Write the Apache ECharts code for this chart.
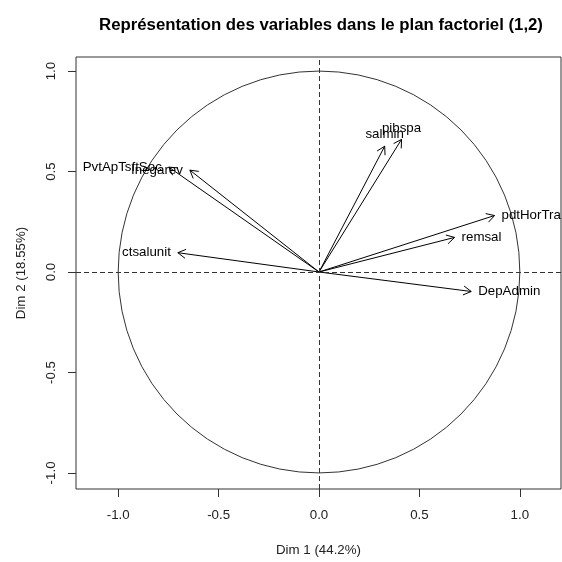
<!DOCTYPE html>
<html>
<head>
<meta charset="utf-8">
<script src="https://cdn.jsdelivr.net/npm/echarts@6/dist/echarts.min.js"></script>
<style>html,body{margin:0;padding:0;background:#fff}#c{width:562px;height:562px}</style>
</head>
<body>
<div id="c"></div>
<script>
// Variable names and coordinates on Dim 1 / Dim 2
const variables = ['PvtApTsftSoc', 'Inegarev', 'salmin', 'pibspa', 'ctsalunit', 'pdtHorTra', 'remsal', 'DepAdmin'];
const dim1 = [-0.748, -0.643, 0.327, 0.411, -0.703, 0.874, 0.675, 0.758];
const dim2 = [0.522, 0.507, 0.626, 0.660, 0.096, 0.281, 0.172, -0.097];
const tickValues = [-1.0, -0.5, 0.0, 0.5, 1.0];
const titleText = 'Représentation des variables dans le plan factoriel (1,2)';
const xName = 'Dim 1 (44.2%)';
const yName = 'Dim 2 (18.55%)';

const FONT = 'Liberation Sans, Arial, sans-serif';
const chart = echarts.init(document.getElementById('c'), null, {renderer: 'canvas'});

const arrowData = variables.map((n, i) => [dim1[i], dim2[i], n]);

function labelPos(x, y) {
  if (Math.abs(y) > Math.abs(x)) return y >= 0 ? 'top' : 'bottom';
  return x >= 0 ? 'right' : 'left';
}

const option = {
  animation: false,
  backgroundColor: '#fff',
  title: {
    text: titleText, left: 316, top: 12, textAlign: 'center',
    textStyle: {fontFamily: FONT, fontSize: 16.8, fontWeight: 'bold', color: '#000'}
  },
  grid: {left: 76, right: 1, top: 57, bottom: 67, show: true, borderColor: '#333', borderWidth: 1, containLabel: false},
  xAxis: {
    type: 'value', min: -1.21, max: 1.205,
    name: xName, nameLocation: 'middle', nameGap: 55,
    nameTextStyle: {fontFamily: FONT, fontSize: 13.3, color: '#222'},
    axisLine: {show: false, onZero: false},
    axisTick: {show: true, length: 8, inside: false, customValues: tickValues, lineStyle: {color: '#333'}},
    axisLabel: {show: true, margin: 20, customValues: tickValues, formatter: v => v.toFixed(1),
      fontFamily: FONT, fontSize: 13.3, color: '#222'},
    splitLine: {show: false}
  },
  yAxis: {
    type: 'value', min: -1.08, max: 1.07,
    name: yName, nameLocation: 'middle', nameGap: 48, nameRotate: 90,
    nameTextStyle: {fontFamily: FONT, fontSize: 13.3, color: '#222'},
    axisLine: {show: false, onZero: false},
    axisTick: {show: true, length: 8, inside: false, customValues: tickValues, lineStyle: {color: '#333'}},
    axisLabel: {show: true, margin: 18, rotate: 90, customValues: tickValues, formatter: v => v.toFixed(1),
      fontFamily: FONT, fontSize: 13.3, color: '#222'},
    splitLine: {show: false}
  },
  series: [
    {
      type: 'custom',
      coordinateSystem: 'cartesian2d',
      silent: true,
      data: [[0, 0]],
      renderItem: function (params, api) {
        const o = api.coord([0, 0]);
        const px = api.coord([1, 0]);
        const py = api.coord([0, 1]);
        const rx = Math.abs(px[0] - o[0]);
        const ry = Math.abs(o[1] - py[1]);
        const d = 'M' + (o[0] - rx) + ' ' + o[1] +
          ' A' + rx + ' ' + ry + ' 0 1 0 ' + (o[0] + rx) + ' ' + o[1] +
          ' A' + rx + ' ' + ry + ' 0 1 0 ' + (o[0] - rx) + ' ' + o[1] + ' Z';
        return {
          type: 'path',
          shape: {pathData: d},
          style: {fill: null, stroke: '#333', lineWidth: 1}
        };
      },
      markLine: {
        silent: true, symbol: 'none', label: {show: false},
        lineStyle: {color: '#333', type: [5, 3], width: 1},
        data: [{xAxis: 0}, {yAxis: 0}]
      },
      z: 2
    },
    {
      type: 'custom',
      coordinateSystem: 'cartesian2d',
      silent: true,
      data: arrowData,
      encode: {x: 0, y: 1},
      renderItem: function (params, api) {
        const x = api.value(0), y = api.value(1);
        const name = arrowData[params.dataIndex][2];
        const o = api.coord([0, 0]);
        const p = api.coord([x, y]);
        const ang = Math.atan2(p[1] - o[1], p[0] - o[0]);
        const L = 9, a = Math.PI / 6;
        const h1 = [p[0] - L * Math.cos(ang - a), p[1] - L * Math.sin(ang - a)];
        const h2 = [p[0] - L * Math.cos(ang + a), p[1] - L * Math.sin(ang + a)];
        const pos = labelPos(x, y);
        const off = 7;
        let tx = p[0], ty = p[1], align = 'center', va = 'middle';
        if (pos === 'left') { tx = p[0] - off; align = 'right'; }
        else if (pos === 'right') { tx = p[0] + off; align = 'left'; }
        else if (pos === 'top') { ty = p[1] - off + 2; va = 'bottom'; }
        else { ty = p[1] + off; va = 'top'; }
        return {
          type: 'group',
          children: [
            {type: 'line', shape: {x1: o[0], y1: o[1], x2: p[0], y2: p[1]}, style: {stroke: '#000', lineWidth: 1}},
            {type: 'polyline', shape: {points: [h1, p, h2]}, style: {stroke: '#000', fill: null, lineWidth: 1}},
            {type: 'text', x: tx, y: ty, style: {text: name, align: align, verticalAlign: va,
              fontFamily: FONT, fontSize: 13.3, fill: '#000'}}
          ]
        };
      },
      z: 3
    }
  ]
};
chart.setOption(option);
</script>
</body>
</html>
